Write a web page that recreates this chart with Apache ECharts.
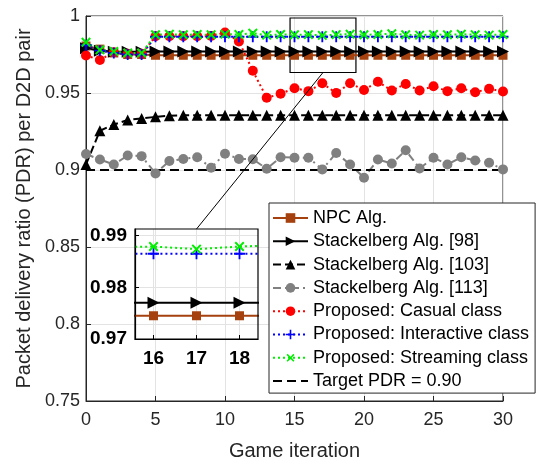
<!DOCTYPE html>
<html>
<head>
<meta charset="utf-8">
<title>PDR per D2D pair</title>
<script src="https://cdn.jsdelivr.net/npm/echarts@6/dist/echarts.min.js"></script>
<style>
  html, body { margin: 0; padding: 0; background: #fff; }
  #chart { width: 537px; height: 466px; }
</style>
</head>
<body>
<div id="chart"></div>
<script>
// game iterations (x axis)
const iterations = [0, 1, 2, 3, 4, 5, 6, 7, 8, 9, 10, 11, 12, 13, 14, 15,
  16, 17, 18, 19, 20, 21, 22, 23, 24, 25, 26, 27, 28, 29, 30];

// PDR values
const npc = [0.9805, 0.9785, 0.976, 0.975, 0.975, 0.9745, 0.9745, 0.9745, 0.9745, 0.9745, 0.9745,
  0.9745, 0.9745, 0.9745, 0.9745, 0.9745, 0.9745, 0.9745, 0.9745, 0.9745, 0.9745,
  0.9745, 0.9745, 0.9745, 0.9745, 0.9745, 0.9745, 0.9745, 0.9745, 0.9745, 0.9745];
const stackelberg98 = [0.979, 0.9775, 0.9768, 0.9768, 0.9768, 0.977, 0.977, 0.977, 0.977, 0.977, 0.977,
  0.977, 0.977, 0.977, 0.977, 0.977, 0.977, 0.977, 0.977, 0.977, 0.977,
  0.977, 0.977, 0.977, 0.977, 0.977, 0.977, 0.977, 0.977, 0.977, 0.977];
const stackelberg103 = [0.9036, 0.9255, 0.9295, 0.9325, 0.9335, 0.9345, 0.9352, 0.9355, 0.9355, 0.9355, 0.9355,
  0.9355, 0.9355, 0.9355, 0.9355, 0.9355, 0.9355, 0.9355, 0.9355, 0.9355, 0.9355,
  0.9355, 0.9355, 0.9355, 0.9355, 0.9355, 0.9355, 0.9355, 0.9355, 0.9355, 0.9355];
const stackelberg113 = [0.9104, 0.9068, 0.9036, 0.9094, 0.909, 0.8978, 0.9058, 0.9072, 0.9083, 0.9015, 0.9106,
  0.9072, 0.907, 0.9008, 0.9083, 0.908, 0.908, 0.9004, 0.911, 0.9036, 0.895,
  0.9068, 0.9042, 0.9128, 0.901, 0.908, 0.9036, 0.9083, 0.9062, 0.9047, 0.9004];
const casual = [0.9744, 0.9714, 0.9765, 0.9755, 0.9755, 0.9868, 0.9868, 0.9868, 0.9868, 0.987, 0.9893,
  0.9835, 0.9644, 0.9469, 0.9495, 0.9531, 0.9512, 0.9563, 0.95, 0.9563, 0.952,
  0.9573, 0.9516, 0.9559, 0.9516, 0.9544, 0.9512, 0.9531, 0.9505, 0.9527, 0.951];
const interactive = [0.981, 0.9775, 0.976, 0.975, 0.975, 0.9865, 0.9865, 0.9865, 0.9865, 0.9865, 0.9865,
  0.9865, 0.9865, 0.9865, 0.9865, 0.9865, 0.9865, 0.9865, 0.9865, 0.9865, 0.9865,
  0.9865, 0.9865, 0.9865, 0.9865, 0.9865, 0.9865, 0.9865, 0.9865, 0.9865, 0.9865];
const streaming = [0.983, 0.978, 0.977, 0.976, 0.976, 0.9878, 0.9882, 0.9878, 0.988, 0.9878, 0.9882,
  0.988, 0.9888, 0.9876, 0.988, 0.9878, 0.9879, 0.9874, 0.9879, 0.9882, 0.9878,
  0.988, 0.9885, 0.9878, 0.9876, 0.988, 0.9878, 0.9882, 0.9878, 0.9876, 0.988];
const target = [0.9, 0.9, 0.9, 0.9, 0.9, 0.9, 0.9, 0.9, 0.9, 0.9, 0.9,
  0.9, 0.9, 0.9, 0.9, 0.9, 0.9, 0.9, 0.9, 0.9, 0.9,
  0.9, 0.9, 0.9, 0.9, 0.9, 0.9, 0.9, 0.9, 0.9, 0.9];

// axis ticks
const xTicksInset = [16, 17, 18];
const yTicksInset = [0.97, 0.98, 0.99];
// zoom box drawn on the main axes (data units)
const zoomBox = { x0: 14.68, x1: 19.42, y0: 0.9633, y1: 0.9987 };

const FONT = '"Liberation Sans", Arial, Helvetica, sans-serif';
const AXIS = '#262626';
const PLUS = 'path://M5,0H7V5H12V7H7V12H5V7H0V5H5Z';

const lines = [
  { name: 'NPC Alg.', data: npc, color: '#a5410e', type: 'solid', symbol: 'rect', size: 9 },
  { name: 'Stackelberg Alg. [98]', data: stackelberg98, color: '#000', type: 'solid', symbol: 'triangle', rotate: -90, size: 12 },
  { name: 'Stackelberg Alg. [103]', data: stackelberg103, color: '#000', type: [8, 4], symbol: 'triangle', size: 11 },
  { name: 'Stackelberg Alg. [113]', data: stackelberg113, color: '#808080', type: [8, 4, 2, 4], symbol: 'circle', size: 10 },
  { name: 'Proposed: Casual class', data: casual, color: '#ff0000', type: [2, 3], symbol: 'circle', size: 10 },
  { name: 'Proposed: Interactive class', data: interactive, color: '#0000ff', type: [2, 3], symbol: PLUS, size: 11 },
  { name: 'Proposed: Streaming class', data: streaming, color: '#00ee00', type: [2, 3], symbol: PLUS, rotate: 45, size: 12 },
  { name: 'Target PDR = 0.90', data: target, color: '#000', type: [9, 5], symbol: 'none', size: 0 }
];

function makeSeries(l, gridIdx) {
  return {
    name: l.name,
    type: 'line',
    xAxisIndex: gridIdx,
    yAxisIndex: gridIdx,
    data: iterations.map((x, i) => [x, l.data[i]]),
    symbol: l.symbol,
    symbolSize: l.size,
    symbolRotate: l.rotate || 0,
    showSymbol: l.symbol !== 'none',
    clip: true,
    lineStyle: { color: l.color, width: 2, type: l.type },
    itemStyle: { color: l.color },
    emphasis: { disabled: true },
    animation: false
  };
}

const series = lines.map(l => makeSeries(l, 0));
// zoom rectangle on the main axes
series[series.length - 1].markArea = {
  silent: true,
  itemStyle: { color: 'rgba(0,0,0,0)', borderColor: '#000', borderWidth: 1.2 },
  data: [[{ xAxis: zoomBox.x0, yAxis: zoomBox.y0 }, { xAxis: zoomBox.x1, yAxis: zoomBox.y1 }]]
};
// inset copies (the target line is outside its window)
lines.slice(0, 7).forEach(l => series.push(makeSeries(l, 1)));

const chart = echarts.init(document.getElementById('chart'));
chart.setOption({
  animation: false,
  textStyle: { fontFamily: FONT },
  grid: [
    { left: 86, right: 34, top: 16, bottom: 59, show: true, borderColor: AXIS, borderWidth: 1, backgroundColor: '#fff' },
    { left: 135, top: 229, width: 123, height: 110, show: true, borderColor: '#000', borderWidth: 1.2, backgroundColor: 'transparent', z: 5 }
  ],
  xAxis: [
    {
      type: 'value', gridIndex: 0, min: 0, max: 30, interval: 5,
      name: 'Game iteration', nameLocation: 'middle', nameGap: 40,
      nameTextStyle: { fontSize: 20, color: AXIS, fontFamily: FONT },
      axisLine: { lineStyle: { color: AXIS } },
      axisTick: { inside: true, length: 5, lineStyle: { color: AXIS } },
      axisLabel: { fontSize: 18, color: AXIS, margin: 10, fontFamily: FONT },
      splitLine: { show: true, lineStyle: { color: '#e3e3e3' } }
    },
    {
      type: 'value', gridIndex: 1, min: 15.57, max: 18.43,
      axisLine: { lineStyle: { color: '#000', width: 1.2 } },
      axisTick: { inside: true, length: 4, customValues: xTicksInset, lineStyle: { color: '#000' } },
      axisLabel: { fontSize: 19, fontWeight: 'bold', color: '#000', margin: 10, customValues: xTicksInset, fontFamily: FONT },
      splitLine: { show: true, lineStyle: { color: '#e3e3e3' } }
    }
  ],
  yAxis: [
    {
      type: 'value', gridIndex: 0, min: 0.75, max: 1, interval: 0.05,
      name: 'Packet delivery ratio (PDR) per D2D pair', nameLocation: 'middle', nameGap: 52,
      nameTextStyle: { fontSize: 20, color: AXIS, fontFamily: FONT },
      axisLine: { show: true, lineStyle: { color: AXIS } },
      axisTick: { show: true, inside: true, length: 5, lineStyle: { color: AXIS } },
      axisLabel: { fontSize: 18, color: AXIS, margin: 6, fontFamily: FONT },
      splitLine: { show: true, lineStyle: { color: '#e3e3e3' } }
    },
    {
      type: 'value', gridIndex: 1, min: 0.97, max: 0.9913,
      axisLine: { show: true, lineStyle: { color: '#000', width: 1.2 } },
      axisTick: { show: true, inside: true, length: 4, customValues: yTicksInset, lineStyle: { color: '#000' } },
      axisLabel: { fontSize: 19, fontWeight: 'bold', color: '#000', margin: 8, customValues: yTicksInset,
        formatter: v => v.toFixed(2), fontFamily: FONT },
      splitLine: { show: true, lineStyle: { color: '#e3e3e3' } }
    }
  ],
  legend: {
    orient: 'vertical', left: 269, top: 203,
    padding: [6, 6, 3, 3], itemGap: 5.3, itemWidth: 35, itemHeight: 12,
    backgroundColor: '#fff', borderColor: AXIS, borderWidth: 1,
    textStyle: { fontSize: 18, color: '#000', lineHeight: 18, fontFamily: FONT },
    data: lines.map(l => l.symbol === 'none'
      ? { name: l.name, itemStyle: { opacity: 0 } }
      : l.name),
    selectedMode: false,
    z: 20
  },
  series: series
});

// connector from the zoom box to the inset
const pInset = chart.convertToPixel({ gridIndex: 1 }, [17, 0.9913]);
const pBox = chart.convertToPixel({ gridIndex: 0 }, [(zoomBox.x0 + zoomBox.x1) / 2, zoomBox.y0]);
chart.setOption({
  graphic: [{
    type: 'line', z: 30, silent: true,
    shape: { x1: pInset[0], y1: pInset[1], x2: pBox[0], y2: pBox[1] },
    style: { stroke: '#000', lineWidth: 1 }
  }]
});
</script>
</body>
</html>
